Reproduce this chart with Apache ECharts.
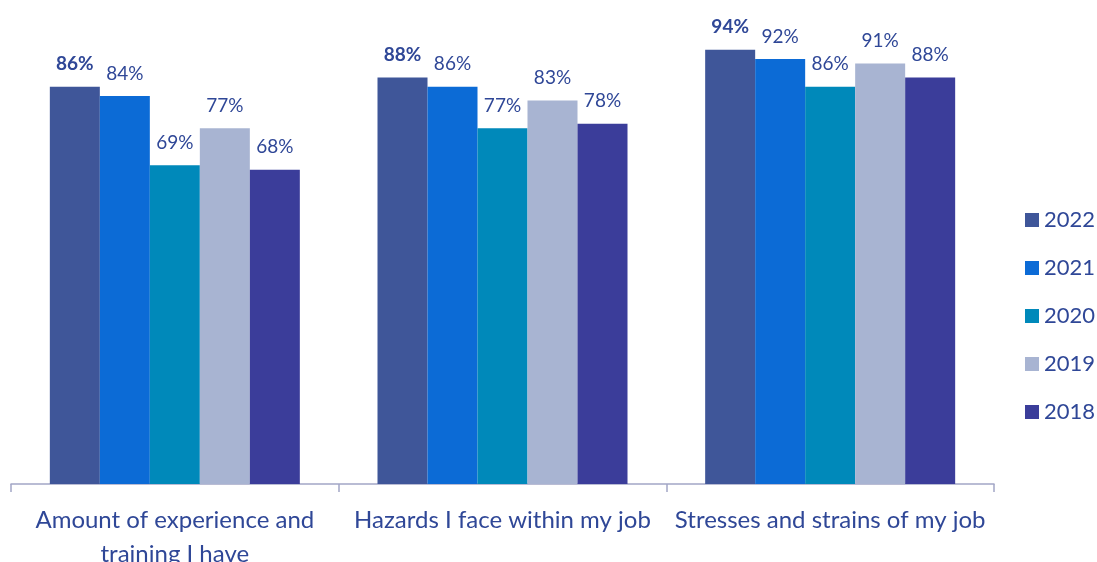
<!DOCTYPE html>
<html>
<head>
<meta charset="utf-8">
<script src="https://cdn.jsdelivr.net/npm/echarts@6/dist/echarts.min.js"></script>
<style>
  html, body { margin: 0; padding: 0; background: #fff; }
  #chart { width: 1097px; height: 562px; }
</style>
</head>
<body>
<div id="chart"></div>
<script>
const categories = [
  'Amount of experience and\ntraining I have',
  'Hazards I face within my job',
  'Stresses and strains of my job'
];
const years = ['2022', '2021', '2020', '2019', '2018'];
const values2022 = [86, 88, 94];
const values2021 = [84, 86, 92];
const values2020 = [69, 77, 86];
const values2019 = [77, 83, 91];
const values2018 = [68, 78, 88];
const colors = ['#3F5699', '#0C6BD6', '#0089BA', '#A8B4D2', '#3B3D9A'];

const textColor = '#2F4797';
const fontFamily = 'Lato, "Open Sans", sans-serif';
const seriesValues = [values2022, values2021, values2020, values2019, values2018];

const chart = echarts.init(document.getElementById('chart'), null, { renderer: 'canvas' });

chart.setOption({
  animation: false,
  textStyle: { fontFamily: fontFamily },
  grid: { left: 11, right: 103, top: 22, bottom: 78, outerBoundsMode: 'none', containLabel: false },
  legend: {
    orient: 'vertical',
    left: 1020,
    top: 203,
    itemWidth: 14,
    itemHeight: 14,
    itemGap: 24,
    icon: 'rect',
    textStyle: { color: textColor, fontSize: 22, lineHeight: 24, fontFamily: fontFamily },
    data: years
  },
  xAxis: {
    type: 'category',
    data: categories,
    axisLine: { lineStyle: { color: '#A3A7C6', width: 1.5 } },
    axisTick: { show: true, interval: 0, length: 8, lineStyle: { color: '#A3A7C6', width: 1.5 } },
    axisLabel: {
      interval: 0,
      color: textColor,
      fontSize: 24,
      lineHeight: 34,
      margin: 19,
      fontFamily: fontFamily
    }
  },
  yAxis: {
    type: 'value',
    min: 0,
    max: 100,
    show: false,
    splitLine: { show: false }
  },
  series: years.map((y, i) => ({
    name: y,
    type: 'bar',
    data: seriesValues[i],
    barWidth: 50,
    barGap: '0%',
    itemStyle: { color: colors[i] },
    label: {
      show: true,
      position: 'top',
      distance: 13,
      formatter: '{c}%',
      color: textColor,
      fontSize: 19,
      fontWeight: i === 0 ? 'bold' : 'normal',
      fontFamily: fontFamily
    }
  }))
});
</script>
</body>
</html>
